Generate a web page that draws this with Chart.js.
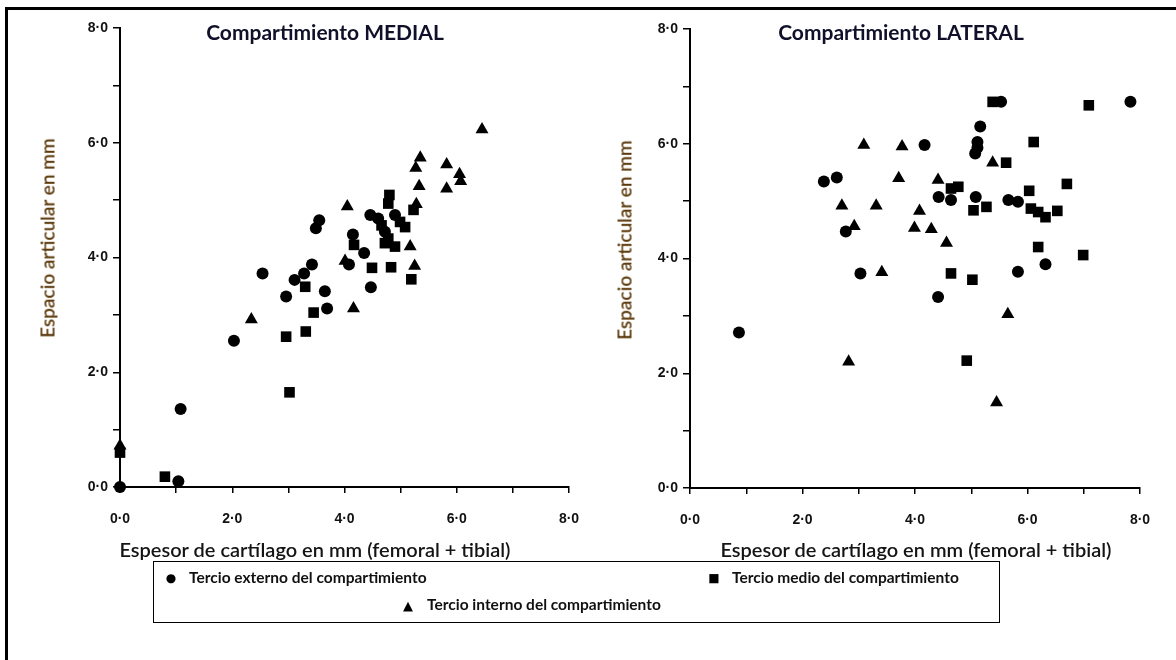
<!DOCTYPE html>
<html>
<head>
<meta charset="utf-8">
<script src="https://cdn.jsdelivr.net/npm/chart.js@4"></script>
<style>
body { margin:0; background:#fff; width:1176px; height:660px; overflow:hidden; position:relative; font-family: Lato, 'Open Sans', sans-serif; }
#frame { position:absolute; left:5px; top:7px; width:1400px; height:900px; border:3px solid #000; box-sizing:border-box; }
.box { position:absolute; top:0; }
.lbl { position:absolute; white-space:nowrap; transform:translate(-50%,-50%); line-height:1; }
.title { font-weight:700; font-size:21px; color:#10102a; }
.xlab { font-size:20px; font-weight:600; color:#141414; }
.ylab { font-size:19px; font-weight:600; color:#5c3a0c; transform:translate(-50%,-50%) rotate(-90deg); }
#legend { position:absolute; left:153px; top:561px; width:847px; height:62px; border:1.5px solid #000; box-sizing:border-box; background:#fff; }
.item { position:absolute; white-space:nowrap; font-weight:700; font-size:15.5px; color:#111; line-height:1; transform:translateY(-50%); }
.mk { position:absolute; font-family:'DejaVu Sans'; color:#000; line-height:1; transform:translate(-50%,-50%); }
</style>
</head>
<body>
<div id="frame"></div>

<div class="box" style="left:0;width:600px;height:560px"><canvas id="medial" width="600" height="560"></canvas></div>
<div class="box" style="left:590px;width:586px;height:560px"><canvas id="lateral" width="586" height="560"></canvas></div>

<div class="lbl title" style="left:325px;top:31px">Compartimiento MEDIAL</div>
<div class="lbl title" style="left:901px;top:31px">Compartimiento LATERAL</div>
<div class="lbl ylab" style="left:47px;top:238px">Espacio articular en mm</div>
<div class="lbl ylab" style="left:624px;top:240px">Espacio articular en mm</div>
<div class="lbl xlab" style="left:315px;top:549px">Espesor de cartílago en mm (femoral + tibial)</div>
<div class="lbl xlab" style="left:916px;top:549px">Espesor de cartílago en mm (femoral + tibial)</div>

<div id="legend"></div>

<script>
// tick labels (British style decimal point)
const tickValues = [0, 2, 4, 6, 8];
const tickLabels = ['0·0', '2·0', '4·0', '6·0', '8·0'];

// legend categories
const categories = ['Tercio externo del compartimiento', 'Tercio medio del compartimiento', 'Tercio interno del compartimiento'];

// Compartimiento MEDIAL
const medExtX = [0, 1.04, 1.08, 2.03, 2.54, 2.96, 3.11, 3.28, 3.42, 3.65, 3.69, 3.49, 3.55, 4.08, 4.15, 4.35, 4.47, 4.46, 4.60, 4.90, 4.72];
const medExtY = [0, 0.10, 1.36, 2.55, 3.72, 3.32, 3.61, 3.72, 3.88, 3.41, 3.11, 4.51, 4.65, 3.88, 4.40, 4.08, 3.48, 4.74, 4.68, 4.74, 4.45];
const medMedX = [0, 0.80, 3.02, 2.96, 3.31, 3.45, 3.30, 4.17, 4.49, 4.83, 5.19, 4.66, 4.78, 4.72, 4.90, 4.99, 5.08, 4.80, 4.78, 5.23];
const medMedY = [0.60, 0.18, 1.65, 2.62, 2.71, 3.04, 3.49, 4.22, 3.82, 3.83, 3.62, 4.56, 4.33, 4.25, 4.19, 4.62, 4.53, 5.09, 4.94, 4.83];
const medIntX = [0, 2.34, 4.01, 4.16, 4.05, 5.17, 5.25, 5.28, 5.33, 5.27, 5.35, 5.82, 5.82, 6.05, 6.07, 6.45];
const medIntY = [0.72, 2.92, 3.94, 3.11, 4.89, 4.19, 3.85, 4.93, 5.24, 5.56, 5.74, 5.62, 5.20, 5.45, 5.33, 6.23];

// Compartimiento LATERAL
const latExtX = [0.87, 2.38, 2.61, 2.77, 3.03, 4.17, 4.42, 4.41, 4.64, 5.08, 5.16, 5.11, 5.11, 5.07, 5.53, 5.66, 5.83, 5.83, 6.32, 7.83];
const latExtY = [2.71, 5.34, 5.41, 4.47, 3.74, 5.98, 5.07, 3.33, 5.02, 5.07, 6.30, 6.03, 5.93, 5.83, 6.73, 5.02, 4.99, 3.77, 3.90, 6.73];
const latMedX = [5.38, 5.62, 6.11, 7.09, 4.64, 4.77, 5.04, 5.27, 6.03, 6.06, 6.19, 6.32, 6.53, 6.70, 4.64, 5.02, 4.92, 6.19, 6.99];
const latMedY = [6.73, 5.67, 6.03, 6.67, 5.22, 5.25, 4.84, 4.90, 5.18, 4.87, 4.81, 4.72, 4.83, 5.30, 3.74, 3.63, 2.22, 4.20, 4.06];
const latIntX = [3.09, 3.77, 3.71, 2.70, 3.31, 4.41, 5.38, 2.92, 3.41, 2.82, 3.99, 4.29, 4.56, 5.45, 5.65, 4.08];
const latIntY = [5.98, 5.95, 5.40, 4.92, 4.92, 5.37, 5.67, 4.56, 3.76, 2.20, 4.53, 4.51, 4.27, 1.49, 3.03, 4.83];

function pts(xs, ys) {
    return xs.map((x, i) => ({ x: x, y: ys[i] }));
}

function series(label, xs, ys, style, radius) {
    return {
        label: label,
        data: pts(xs, ys),
        pointStyle: style,
        pointRadius: radius,
        backgroundColor: '#000',
        borderColor: '#000',
        borderWidth: 0,
        clip: false
    };
}

function tickText(v) {
    const i = tickValues.indexOf(v);
    return i >= 0 ? tickLabels[i] : '';
}

function axis(isX, fitSize) {
    return {
        type: 'linear',
        min: 0,
        max: 8,
        ticks: {
            stepSize: 1,
            autoSkip: false,
            maxRotation: 0,
            padding: isX ? 18 : 5,
            color: '#111',
            font: { family: 'Liberation Sans', size: 14, weight: 'bold' },
            callback: tickText
        },
        grid: { drawOnChartArea: false, drawTicks: true, tickLength: isX ? 6 : 7, color: '#000', lineWidth: 1.5 },
        border: { display: true, color: '#000', width: 2 },
        afterFit: function (s) {
            if (isX) s.height = fitSize; else s.width = fitSize;
        }
    };
}

function makeChart(id, sets, pad, yWidth, xHeight) {
    return new Chart(document.getElementById(id), {
        type: 'scatter',
        data: { datasets: sets },
        options: {
            responsive: false,
            animation: false,
            events: [],
            layout: { padding: pad },
            plugins: { legend: { display: false }, tooltip: { enabled: false } },
            scales: { x: axis(true, xHeight), y: axis(false, yWidth) }
        }
    });
}

makeChart('medial', [
    series(categories[0], medExtX, medExtY, 'circle', 6),
    series(categories[1], medMedX, medMedY, 'rect', 7.5),
    series(categories[2], medIntX, medIntY, 'triangle', 7.5)
], { top: 28, right: 31, left: 0, bottom: 0 }, 120, 73);

makeChart('lateral', [
    series(categories[0], latExtX, latExtY, 'circle', 6),
    series(categories[1], latMedX, latMedY, 'rect', 7.5),
    series(categories[2], latIntX, latIntY, 'triangle', 7.5)
], { top: 29, right: 36, left: 0, bottom: 0 }, 100, 72);

// legend box
const legend = document.getElementById('legend');
const legendPos = [
    { mk: '●', size: 12, mx: 17, tx: 35, y: 16 },
    { mk: '■', size: 12, mx: 560, tx: 578, y: 16 },
    { mk: '▲', size: 13, mx: 254, tx: 273, y: 43 }
];
legendPos.forEach((p, i) => {
    const m = document.createElement('div');
    m.className = 'mk';
    m.style.left = p.mx + 'px';
    m.style.top = p.y + 'px';
    m.style.fontSize = p.size + 'px';
    m.textContent = p.mk;
    legend.appendChild(m);
    const t = document.createElement('div');
    t.className = 'item';
    t.style.left = p.tx + 'px';
    t.style.top = p.y + 'px';
    t.textContent = categories[i];
    legend.appendChild(t);
});
</script>
</body>
</html>
